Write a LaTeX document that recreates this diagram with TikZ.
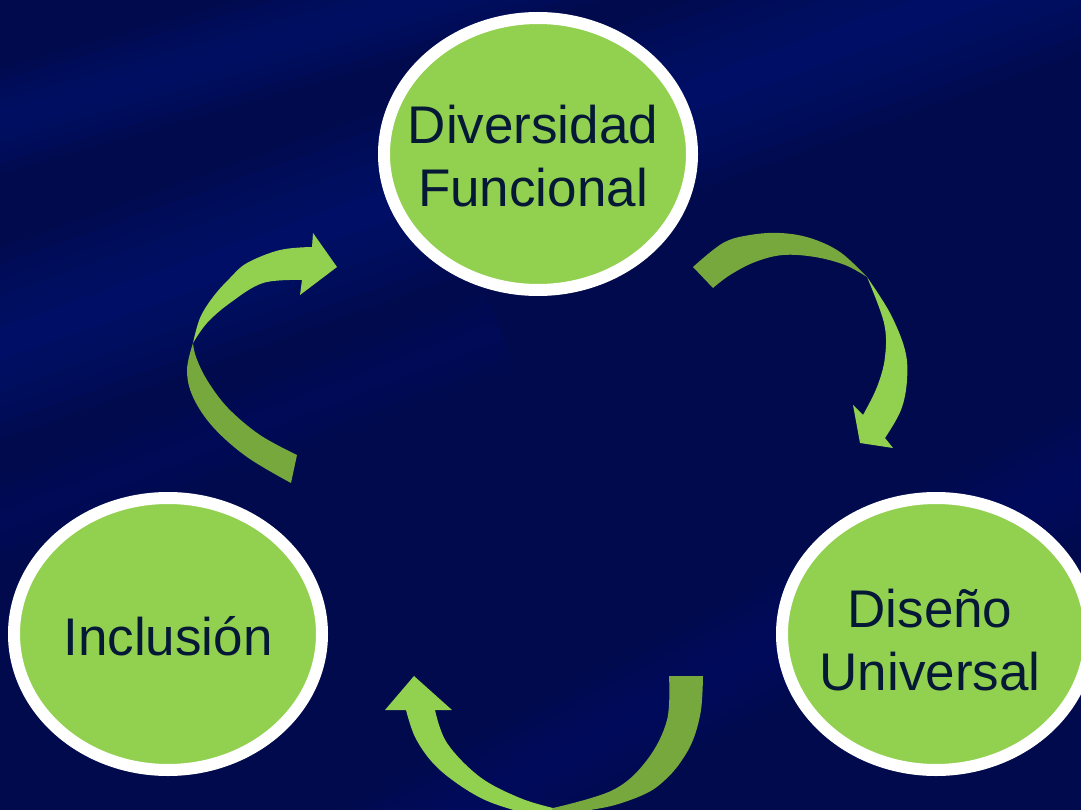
\documentclass[tikz,border=0pt]{standalone}
\usepackage{fontspec}
\usetikzlibrary{shapes.geometric}
\setmainfont{Liberation Sans}
\definecolor{lg}{RGB}{146,208,80}
\definecolor{dg}{RGB}{119,168,62}
\definecolor{txtc}{RGB}{5,25,55}
\definecolor{bgdark}{RGB}{0,10,76}
\definecolor{bglight}{RGB}{6,20,118}
\begin{document}
\begin{tikzpicture}[x=1pt,y=-1pt,
  bubble/.style={ellipse, draw=white, line width=12pt, fill=lg, minimum width=308pt, minimum height=272pt, inner sep=0pt},
  lbl/.style={text=txtc, font=\fontsize{53}{63}\selectfont, align=center},
  lightpart/.style={fill=lg},
  darkpart/.style={fill=dg},
  sm/.style={smooth, tension=0.6},
  streak/.style={draw=bglight, line cap=butt, opacity=0.16}]
\useasboundingbox (0,0) rectangle (1081,810);
\clip (0,0) rectangle (1081,810);
% background
\fill[bgdark] (-10,-10) rectangle (1091,820);
\foreach \w in {30,60,90,120,150,180}{
  \draw[streak, line width=\w pt] (-100,380) -- (1181,-80);
}
\foreach \w in {20,40,60,80,100}{
  \draw[streak, line width=\w pt] (-100,150) -- (700,-80);
}
\foreach \w in {20,40,60,80,100,120}{
  \draw[streak, line width=\w pt, opacity=0.09] (300,900) -- (1181,420);
}
\foreach \w in {20,40,60,80}{
  \draw[streak, line width=\w pt, opacity=0.08] (-100,560) -- (500,330);
}
% ellipses
\node[bubble] (df) at (538,154) {};
\node[bubble] (inc) at (168,634) {};
\node[bubble] (du) at (936,634) {};
\node[lbl] (tdf) at (533,156) {Diversidad\\Funcional};
\node[lbl] (tinc) at (168,636) {Inclusión};
\node[lbl] (tdu) at (930,640) {Diseño\\Universal};
% left arrow (Inclusion -> Diversidad)
\fill[darkpart] plot[sm] coordinates {(193,343) (187,370) (193,397) (213,427) (247,457) (291,483)}
  -- (297,455) -- plot[sm] coordinates {(297,455) (260,435) (228,408) (207,380) (196,357) (193,343)} -- cycle;
\fill[lightpart] plot[sm] coordinates {(193,343) (200,318) (213,297) (230,278) (247,263) (280,250) (312,247)}
  -- (313,233) -- (337,267) -- (300,295) -- (302,280)
  -- plot[sm] coordinates {(302,280) (263,283) (230,303) (207,323) (193,343)} -- cycle;
% top-right arrow (Diversidad -> Diseno)
\fill[darkpart] plot[sm] coordinates {(693,267) (723,243) (750,235) (780,233) (810,238) (840,252) (867,277)}
  -- plot[sm] coordinates {(867,277) (845,265) (815,257) (783,255) (755,262) (730,275) (713,288)} -- cycle;
\fill[lightpart] plot[sm] coordinates {(867,277) (890,313) (905,350) (907,380) (901,410) (885,438)}
  -- (893,448) -- (860,443) -- (853,405) -- (863,415)
  -- plot[sm] coordinates {(863,415) (877,387) (885,357) (884,323) (867,277)} -- cycle;
% bottom arrow (Diseno -> Inclusion)
\fill[darkpart] plot[sm] coordinates {(703,676) (701,710) (693,740) (680,763) (665,780) (647,793) (615,805) (580,812) (548,820)}
  -- (553,808) -- plot[sm] coordinates {(553,808) (613,790) (647,760) (667,720) (669,676)} -- cycle;
\fill[lightpart] plot[sm] coordinates {(548,820) (520,812) (485,800) (455,782) (432,762) (415,737) (406,710)}
  -- (385,710) -- (414,676) -- (452,710) -- (435,710)
  -- plot[sm] coordinates {(435,710) (447,743) (480,777) (520,798) (553,808)} -- cycle;
\end{tikzpicture}
\end{document}
